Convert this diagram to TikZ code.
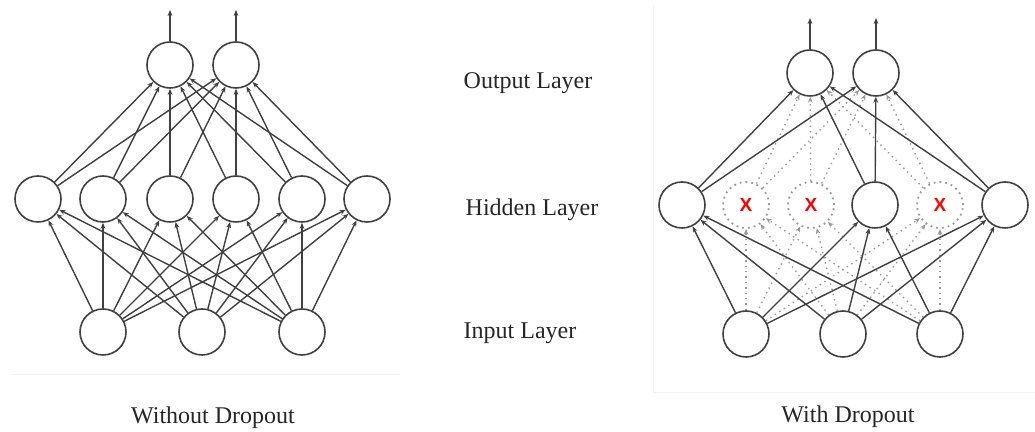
\documentclass[tikz,border=0pt]{standalone}
\usepackage{fontspec}
\setmainfont{Liberation Serif}
\newfontfamily\xfont{Liberation Sans}
\usetikzlibrary{arrows.meta}
\begin{document}
\begin{tikzpicture}[x=0.5pt,y=-0.5pt,
 neuron/.style={circle,draw=black!75,line width=0.8pt,minimum size=23pt,inner sep=0pt},
 dropneuron/.style={circle,draw=black!40,dotted,line width=0.9pt,minimum size=23pt,inner sep=0pt},
 conn/.style={draw=black!75,line width=0.7pt,-{Stealth[length=3pt,width=2.4pt]}},
 dconn/.style={draw=black!40,dotted,line width=0.7pt,-{Stealth[length=3pt,width=2.4pt]}},
 lab/.style={text=black!85,font=\fontsize{12}{14}\selectfont},
 xmark/.style={text=red,font=\xfont\bfseries\fontsize{9.5}{12}\selectfont},
 faint/.style={draw=black!5,line width=0.5pt}]
\useasboundingbox (0,0) rectangle (1035,432);
% faint frame remnants
\draw[faint] (10,375) -- (400,375);
\draw[faint] (653,5) -- (653,393) -- (1035,393);

% ---------- Left network ----------
\node[neuron] (Lo1) at (170,65) {};
\node[neuron] (Lo2) at (236,65) {};
\coordinate (Lt1) at (170,10);
\coordinate (Lt2) at (236,10);
\foreach \n/\x in {1/38,2/103,3/170,4/236,5/302,6/367}
  \node[neuron] (Lh\n) at (\x,199) {};
\foreach \n/\x in {1/103,2/202,3/302}
  \node[neuron] (Li\n) at (\x,332) {};
\foreach \i in {1,2,3}
  \foreach \h in {1,...,6}
    \draw[conn] (Li\i) -- (Lh\h);
\foreach \h in {1,...,6}
  \foreach \o in {1,2}
    \draw[conn] (Lh\h) -- (Lo\o);
\draw[conn] (Lo1) -- (Lt1);
\draw[conn] (Lo2) -- (Lt2);

% ---------- Right network ----------
\node[neuron] (Ro1) at (810,73) {};
\node[neuron] (Ro2) at (876,73) {};
\coordinate (Rt1) at (810,18);
\coordinate (Rt2) at (876,18);
\node[neuron] (Rh1) at (682,205) {};
\node[dropneuron,xmark] (Rh2) at (746,205) {X};
\node[dropneuron,xmark] (Rh3) at (811,205) {X};
\node[neuron] (Rh4) at (875,205) {};
\node[dropneuron,xmark] (Rh5) at (940,205) {X};
\node[neuron] (Rh6) at (1005,205) {};
\foreach \n/\x in {1/746,2/843,3/940}
  \node[neuron] (Ri\n) at (\x,334) {};
% dropped connections
\foreach \h in {2,3,5}{
  \foreach \i in {1,2,3}
    \draw[dconn] (Ri\i) -- (Rh\h);
  \foreach \o in {1,2}
    \draw[dconn] (Rh\h) -- (Ro\o);
}
% kept connections
\foreach \h in {1,4,6}{
  \foreach \i in {1,2,3}
    \draw[conn] (Ri\i) -- (Rh\h);
  \foreach \o in {1,2}
    \draw[conn] (Rh\h) -- (Ro\o);
}
\draw[conn] (Ro1) -- (Rt1);
\draw[conn] (Ro2) -- (Rt2);

% ---------- Labels ----------
\node[lab] (lout) at (528,83) {Output Layer};
\node[lab] (lhid) at (532,210) {Hidden Layer};
\node[lab] (linp) at (520,333) {Input Layer};
\node[lab] (lwo) at (213,418) {Without Dropout};
\node[lab] (lw) at (848,417) {With Dropout};
\end{tikzpicture}
\end{document}
